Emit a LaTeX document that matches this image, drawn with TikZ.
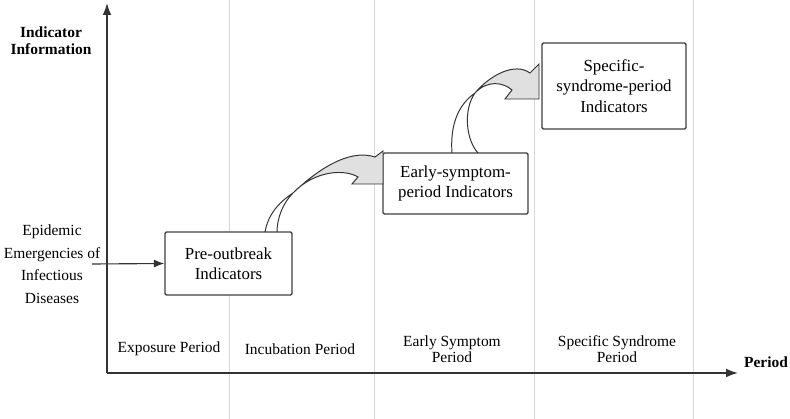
\documentclass[tikz,border=0pt]{standalone}
\usepackage{fontspec}
\setmainfont{Liberation Serif}
\usepackage{tikz}
\usetikzlibrary{positioning,arrows.meta,calc}
\definecolor{boxgray}{HTML}{404040}
\definecolor{axisgray}{HTML}{333333}
\definecolor{gridgray}{HTML}{D6D6D6}
\definecolor{headgray}{HTML}{E0E0E0}
\tikzset{
  stagebox/.style={
    draw=boxgray,
    line width=1pt,
    fill=white,
    rectangle,
    rounded corners=1pt,
    align=center,
    font=\fontsize{12}{14.5}\selectfont,
    inner sep=2pt
  },
  periodlabel/.style={
    align=center,
    font=\fontsize{11}{11.5}\selectfont,
    inner sep=1pt
  },
  axislabel/.style={
    align=center,
    font=\bfseries\fontsize{11}{12}\selectfont,
    inner sep=1pt
  },
  axisarrow/.style={
    -{Latex[length=3mm,width=2.2mm]},
    line width=1pt,
    draw=axisgray
  },
  flowarrow/.style={
    -{Latex[length=2.6mm,width=2mm]},
    line width=0.8pt,
    draw=axisgray
  },
  gridline/.style={
    draw=gridgray,
    line width=0.6pt
  },
  twistarrow/.style={
    draw=black!80,
    line width=0.7pt,
    line join=miter
  }
}
\begin{document}
\begin{tikzpicture}[x=0.025cm,y=-0.025cm]
    \useasboundingbox (0,0) rectangle (790,419);

    \foreach \gx in {229,374,534,693}
      \draw[gridline] (\gx,0) -- (\gx,419);

    \coordinate (origin) at (107,373);
    \coordinate (ytop) at (107,3);
    \coordinate (xend) at (738,373);
    \draw[axisarrow] (origin) -- (ytop);
    \draw[axisarrow] (origin) -- (xend);

    \node[axislabel] (yname) at (51,41) {Indicator\\Information};
    \node[axislabel] (xname) at (766,362) {Period};

    \node[periodlabel] (exposure) at (169,349) {Exposure Period};
    \node[periodlabel] (incubation) at (300,349) {Incubation Period};
    \node[periodlabel] (earlyper) at (452,349) {Early Symptom\\Period};
    \node[periodlabel] (specper) at (617,349) {Specific Syndrome\\Period};

    \node[periodlabel, font=\fontsize{11}{16}\selectfont] (epidemic) at (52,264)
      {Epidemic\\Emergencies of\\Infectious\\Diseases};

    \node[stagebox, minimum width=3.175cm, minimum height=1.575cm] (preout) at (228.5,263.5)
      {Pre-outbreak\\Indicators};
    \node[stagebox, minimum width=3.625cm, minimum height=1.525cm] (early) at (455.5,183.5)
      {Early-symptom-\\period Indicators};
    \node[stagebox, minimum width=3.6cm, minimum height=2.15cm] (specific) at (614,86)
      {Specific-\\syndrome-period\\Indicators};

    \draw[flowarrow] ([xshift=-2.5mm]epidemic.east) -- (preout.west);

    \fill[headgray] (293,193) .. controls (315,172) and (348,148) .. (375,157)
      -- (383,151) -- (383,184) -- (352,184) -- (358,177)
      .. controls (345,169) and (315,170) .. (293,193) -- cycle;
    \draw[twistarrow] (265,232) .. controls (268,215) and (278,203) .. (293,193)
      .. controls (315,172) and (348,148) .. (375,157)
      -- (383,151) -- (383,184) -- (352,184) -- (358,177)
      .. controls (345,169) and (315,170) .. (293,193)
      .. controls (283,203) and (277,218) .. (277,232);

    \fill[headgray] (475,93) .. controls (490,75) and (515,62) .. (530,73)
      -- (539,64) -- (539,99) -- (505,99) -- (512,90)
      .. controls (503,82) and (487,80) .. (475,93) -- cycle;
    \draw[twistarrow] (452,153) .. controls (450,125) and (458,105) .. (475,93)
      .. controls (490,75) and (515,62) .. (530,73)
      -- (539,64) -- (539,99) -- (505,99) -- (512,90)
      .. controls (503,82) and (487,80) .. (475,93)
      .. controls (463,110) and (466,140) .. (478,153);

\end{tikzpicture}
\end{document}
